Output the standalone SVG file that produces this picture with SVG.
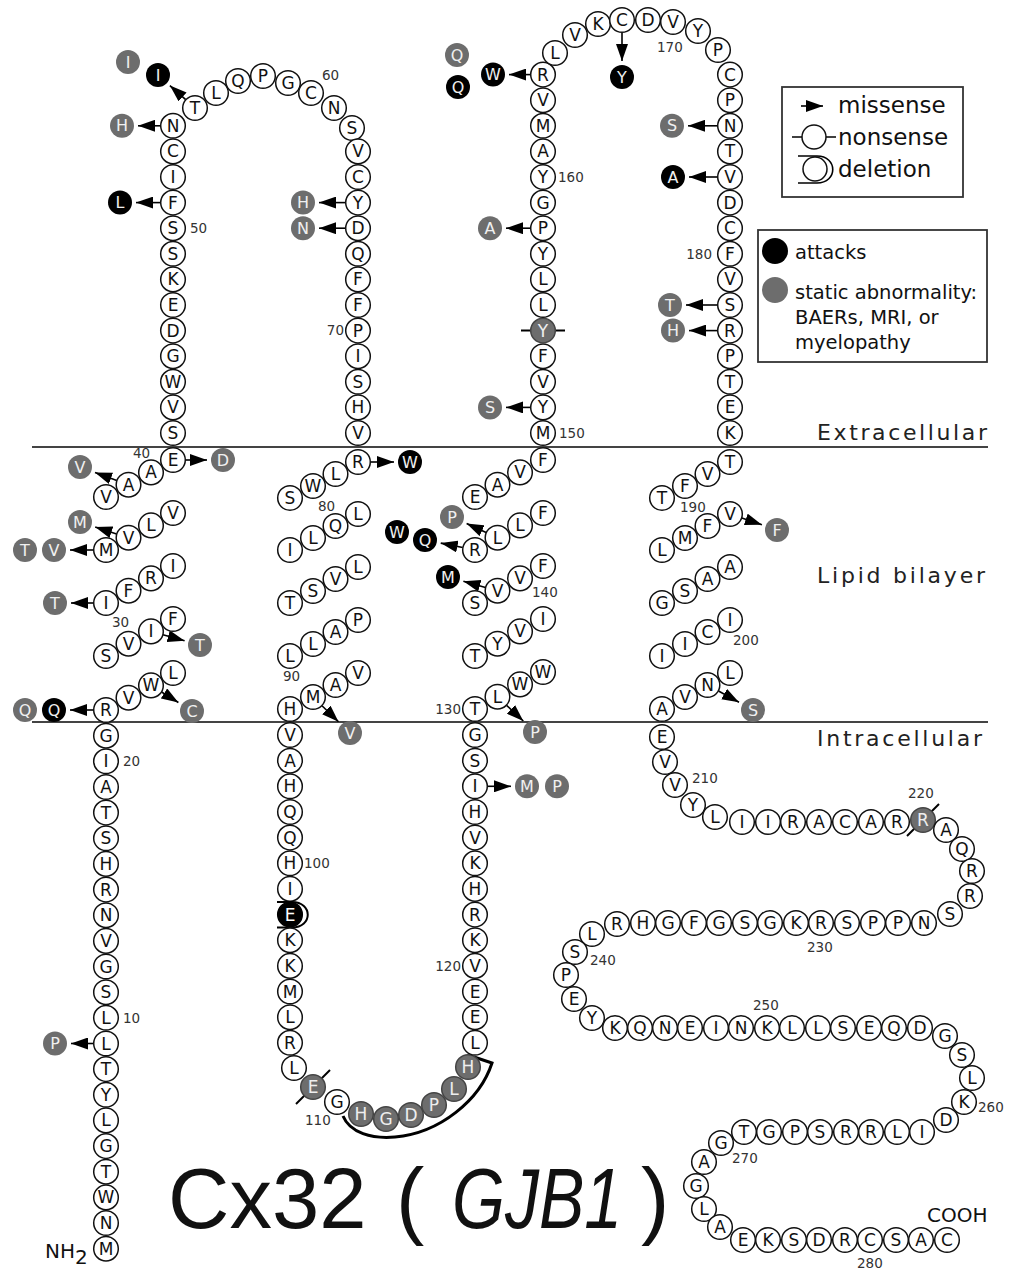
<svg xmlns="http://www.w3.org/2000/svg" width="1015" height="1271" viewBox="0 0 1015 1271">
<defs>
<marker id="ah" markerUnits="userSpaceOnUse" markerWidth="17" markerHeight="12" viewBox="0 0 17 12" refX="17" refY="6" orient="auto"><path d="M0,0 L17,6 L0,12 z" fill="#000"/></marker>
<style>
text{font-family:"DejaVu Sans","Liberation Sans",sans-serif}
.r circle{fill:#fff;stroke:#111;stroke-width:1.5}
.r text{font-size:17px;fill:#111;text-anchor:middle;dominant-baseline:central}
.r.g circle{fill:#6d6d6d;stroke:#444}
.r.g text{fill:#eee}
.r.k circle{fill:#000;stroke:#000}
.r.k text{fill:#fff}
.m circle{stroke:none}
.m.g circle{fill:#6d6d6d}
.m.k circle{fill:#000}
.m text{font-size:16px;fill:#f0f0f0;text-anchor:middle;dominant-baseline:central}
.n{font-size:13.5px;fill:#333}
.arr{stroke:#000;stroke-width:1.6;fill:none;marker-end:url(#ah)}
.mem{stroke:#444;stroke-width:2}
.mark{stroke:#000;stroke-width:2;fill:none}
.reg{font-size:22px;fill:#222}
.leg{font-size:23px;fill:#111}
.leg2{font-size:19.5px;fill:#111}
.ttl{font-family:"Liberation Sans",Arial,sans-serif;font-size:85px;fill:#111}
</style>
</defs>
<rect width="1015" height="1271" fill="#fff"/>
<g id="membrane">
<line class="mem" x1="32" y1="447" x2="988" y2="447"/>
<line class="mem" x1="32" y1="722" x2="988" y2="722"/>
<text class="reg" x="817" y="440" textLength="170" lengthAdjust="spacing">Extracellular</text>
<text class="reg" x="817" y="583" textLength="168" lengthAdjust="spacing">Lipid bilayer</text>
<text class="reg" x="817" y="746" textLength="165" lengthAdjust="spacing">Intracellular</text>
</g>
<g id="connectors">
<line class="arr" x1="185.7" y1="99.7" x2="169.9" y2="85.6"/>
<line class="arr" x1="160.5" y1="125.8" x2="138" y2="125.8"/>
<line class="arr" x1="160.5" y1="202.6" x2="136" y2="202.6"/>
<line class="arr" x1="345.5" y1="202.6" x2="319" y2="202.6"/>
<line class="arr" x1="345.5" y1="228.2" x2="319" y2="228.2"/>
<line class="arr" x1="185.5" y1="460" x2="207" y2="460"/>
<line class="arr" x1="116.8" y1="480.4" x2="95" y2="472.5"/>
<line class="arr" x1="116.6" y1="533.9" x2="95.2" y2="526.9"/>
<line class="arr" x1="93.5" y1="550" x2="70" y2="550"/>
<line class="arr" x1="93.5" y1="603" x2="71" y2="603"/>
<line class="arr" x1="163" y1="634.7" x2="184.6" y2="640.7"/>
<line class="arr" x1="93.5" y1="710" x2="70" y2="710"/>
<line class="arr" x1="161.6" y1="692" x2="178.4" y2="702.5"/>
<line class="arr" x1="370.5" y1="462" x2="394" y2="462"/>
<line class="arr" x1="322" y1="705.7" x2="338.5" y2="721.8"/>
<line class="arr" x1="93.5" y1="1043.5" x2="71" y2="1043.5"/>
<line class="arr" x1="487.5" y1="786.3" x2="511" y2="786.3"/>
<line class="arr" x1="506.6" y1="705.3" x2="523.3" y2="721"/>
<line class="arr" x1="485.5" y1="587.4" x2="463.4" y2="581.3"/>
<line class="arr" x1="462.7" y1="547.5" x2="440.7" y2="543.1"/>
<line class="arr" x1="486.1" y1="532.5" x2="466.6" y2="523.6"/>
<line class="arr" x1="530.5" y1="407.4" x2="506" y2="407.4"/>
<line class="arr" x1="530.5" y1="228.2" x2="506" y2="228.2"/>
<line class="arr" x1="530.5" y1="74.6" x2="509" y2="74.6"/>
<line class="arr" x1="622" y1="32.5" x2="622" y2="61"/>
<line class="arr" x1="717.5" y1="125.8" x2="688" y2="125.8"/>
<line class="arr" x1="717.5" y1="177" x2="689" y2="177"/>
<line class="arr" x1="717.5" y1="305" x2="686" y2="305"/>
<line class="arr" x1="717.5" y1="330.6" x2="689" y2="330.6"/>
<line class="arr" x1="741.8" y1="518" x2="761.9" y2="524.8"/>
<line class="arr" x1="718.5" y1="691" x2="739" y2="702.3"/>
</g>
<g id="deletion-111-116"><path class="mark" style="stroke-width:3" d="M343,1116 C350,1133 372,1139 395,1137 C440,1133 480,1100 492,1063 L474,1057"/></g>
<g id="residues">
<g id="r1" class="r"><circle cx="106" cy="1248.7" r="12.3"/><text x="106" y="1248.7">M</text></g>
<g id="r2" class="r"><circle cx="106" cy="1223" r="12.3"/><text x="106" y="1223">N</text></g>
<g id="r3" class="r"><circle cx="106" cy="1197.4" r="12.3"/><text x="106" y="1197.4">W</text></g>
<g id="r4" class="r"><circle cx="106" cy="1171.7" r="12.3"/><text x="106" y="1171.7">T</text></g>
<g id="r5" class="r"><circle cx="106" cy="1146.1" r="12.3"/><text x="106" y="1146.1">G</text></g>
<g id="r6" class="r"><circle cx="106" cy="1120.4" r="12.3"/><text x="106" y="1120.4">L</text></g>
<g id="r7" class="r"><circle cx="106" cy="1094.8" r="12.3"/><text x="106" y="1094.8">Y</text></g>
<g id="r8" class="r"><circle cx="106" cy="1069.1" r="12.3"/><text x="106" y="1069.1">T</text></g>
<g id="r9" class="r"><circle cx="106" cy="1043.5" r="12.3"/><text x="106" y="1043.5">L</text></g>
<g id="r10" class="r"><circle cx="106" cy="1017.8" r="12.3"/><text x="106" y="1017.8">L</text></g>
<g id="r11" class="r"><circle cx="106" cy="992.2" r="12.3"/><text x="106" y="992.2">S</text></g>
<g id="r12" class="r"><circle cx="106" cy="966.5" r="12.3"/><text x="106" y="966.5">G</text></g>
<g id="r13" class="r"><circle cx="106" cy="940.9" r="12.3"/><text x="106" y="940.9">V</text></g>
<g id="r14" class="r"><circle cx="106" cy="915.2" r="12.3"/><text x="106" y="915.2">N</text></g>
<g id="r15" class="r"><circle cx="106" cy="889.6" r="12.3"/><text x="106" y="889.6">R</text></g>
<g id="r16" class="r"><circle cx="106" cy="863.9" r="12.3"/><text x="106" y="863.9">H</text></g>
<g id="r17" class="r"><circle cx="106" cy="838.3" r="12.3"/><text x="106" y="838.3">S</text></g>
<g id="r18" class="r"><circle cx="106" cy="812.6" r="12.3"/><text x="106" y="812.6">T</text></g>
<g id="r19" class="r"><circle cx="106" cy="787" r="12.3"/><text x="106" y="787">A</text></g>
<g id="r20" class="r"><circle cx="106" cy="761.3" r="12.3"/><text x="106" y="761.3">I</text></g>
<g id="r21" class="r"><circle cx="106" cy="735.7" r="12.3"/><text x="106" y="735.7">G</text></g>
<g id="r22" class="r"><circle cx="106" cy="710" r="12.3"/><text x="106" y="710">R</text></g>
<g id="r23" class="r"><circle cx="128.5" cy="697.7" r="12.3"/><text x="128.5" y="697.7">V</text></g>
<g id="r24" class="r"><circle cx="151" cy="685.4" r="12.3"/><text x="151" y="685.4">W</text></g>
<g id="r25" class="r"><circle cx="173" cy="673" r="12.3"/><text x="173" y="673">L</text></g>
<g id="r26" class="r"><circle cx="106" cy="656" r="12.3"/><text x="106" y="656">S</text></g>
<g id="r27" class="r"><circle cx="128.5" cy="643.7" r="12.3"/><text x="128.5" y="643.7">V</text></g>
<g id="r28" class="r"><circle cx="151" cy="631.4" r="12.3"/><text x="151" y="631.4">I</text></g>
<g id="r29" class="r"><circle cx="173" cy="619" r="12.3"/><text x="173" y="619">F</text></g>
<g id="r30" class="r"><circle cx="106" cy="603" r="12.3"/><text x="106" y="603">I</text></g>
<g id="r31" class="r"><circle cx="128.5" cy="590.7" r="12.3"/><text x="128.5" y="590.7">F</text></g>
<g id="r32" class="r"><circle cx="151" cy="578.4" r="12.3"/><text x="151" y="578.4">R</text></g>
<g id="r33" class="r"><circle cx="173" cy="566" r="12.3"/><text x="173" y="566">I</text></g>
<g id="r34" class="r"><circle cx="106" cy="550" r="12.3"/><text x="106" y="550">M</text></g>
<g id="r35" class="r"><circle cx="128.5" cy="537.7" r="12.3"/><text x="128.5" y="537.7">V</text></g>
<g id="r36" class="r"><circle cx="151" cy="525.4" r="12.3"/><text x="151" y="525.4">L</text></g>
<g id="r37" class="r"><circle cx="173" cy="513" r="12.3"/><text x="173" y="513">V</text></g>
<g id="r38" class="r"><circle cx="106" cy="497" r="12.3"/><text x="106" y="497">V</text></g>
<g id="r39" class="r"><circle cx="128.5" cy="484.7" r="12.3"/><text x="128.5" y="484.7">A</text></g>
<g id="r40" class="r"><circle cx="151" cy="472.4" r="12.3"/><text x="151" y="472.4">A</text></g>
<g id="r41" class="r"><circle cx="173" cy="460" r="12.3"/><text x="173" y="460">E</text></g>
<g id="r42" class="r"><circle cx="173" cy="433" r="12.3"/><text x="173" y="433">S</text></g>
<g id="r43" class="r"><circle cx="173" cy="407.4" r="12.3"/><text x="173" y="407.4">V</text></g>
<g id="r44" class="r"><circle cx="173" cy="381.8" r="12.3"/><text x="173" y="381.8">W</text></g>
<g id="r45" class="r"><circle cx="173" cy="356.2" r="12.3"/><text x="173" y="356.2">G</text></g>
<g id="r46" class="r"><circle cx="173" cy="330.6" r="12.3"/><text x="173" y="330.6">D</text></g>
<g id="r47" class="r"><circle cx="173" cy="305" r="12.3"/><text x="173" y="305">E</text></g>
<g id="r48" class="r"><circle cx="173" cy="279.4" r="12.3"/><text x="173" y="279.4">K</text></g>
<g id="r49" class="r"><circle cx="173" cy="253.8" r="12.3"/><text x="173" y="253.8">S</text></g>
<g id="r50" class="r"><circle cx="173" cy="228.2" r="12.3"/><text x="173" y="228.2">S</text></g>
<g id="r51" class="r"><circle cx="173" cy="202.6" r="12.3"/><text x="173" y="202.6">F</text></g>
<g id="r52" class="r"><circle cx="173" cy="177" r="12.3"/><text x="173" y="177">I</text></g>
<g id="r53" class="r"><circle cx="173" cy="151.4" r="12.3"/><text x="173" y="151.4">C</text></g>
<g id="r54" class="r"><circle cx="173" cy="125.8" r="12.3"/><text x="173" y="125.8">N</text></g>
<g id="r55" class="r"><circle cx="195" cy="108" r="12.3"/><text x="195" y="108">T</text></g>
<g id="r56" class="r"><circle cx="216" cy="93" r="12.3"/><text x="216" y="93">L</text></g>
<g id="r57" class="r"><circle cx="238" cy="81" r="12.3"/><text x="238" y="81">Q</text></g>
<g id="r58" class="r"><circle cx="263" cy="76" r="12.3"/><text x="263" y="76">P</text></g>
<g id="r59" class="r"><circle cx="288" cy="83" r="12.3"/><text x="288" y="83">G</text></g>
<g id="r60" class="r"><circle cx="311" cy="93" r="12.3"/><text x="311" y="93">C</text></g>
<g id="r61" class="r"><circle cx="334" cy="108" r="12.3"/><text x="334" y="108">N</text></g>
<g id="r62" class="r"><circle cx="352" cy="128" r="12.3"/><text x="352" y="128">S</text></g>
<g id="r63" class="r"><circle cx="358" cy="151.4" r="12.3"/><text x="358" y="151.4">V</text></g>
<g id="r64" class="r"><circle cx="358" cy="177" r="12.3"/><text x="358" y="177">C</text></g>
<g id="r65" class="r"><circle cx="358" cy="202.6" r="12.3"/><text x="358" y="202.6">Y</text></g>
<g id="r66" class="r"><circle cx="358" cy="228.2" r="12.3"/><text x="358" y="228.2">D</text></g>
<g id="r67" class="r"><circle cx="358" cy="253.8" r="12.3"/><text x="358" y="253.8">Q</text></g>
<g id="r68" class="r"><circle cx="358" cy="279.4" r="12.3"/><text x="358" y="279.4">F</text></g>
<g id="r69" class="r"><circle cx="358" cy="305" r="12.3"/><text x="358" y="305">F</text></g>
<g id="r70" class="r"><circle cx="358" cy="330.6" r="12.3"/><text x="358" y="330.6">P</text></g>
<g id="r71" class="r"><circle cx="358" cy="356.2" r="12.3"/><text x="358" y="356.2">I</text></g>
<g id="r72" class="r"><circle cx="358" cy="381.8" r="12.3"/><text x="358" y="381.8">S</text></g>
<g id="r73" class="r"><circle cx="358" cy="407.4" r="12.3"/><text x="358" y="407.4">H</text></g>
<g id="r74" class="r"><circle cx="358" cy="433" r="12.3"/><text x="358" y="433">V</text></g>
<g id="r75" class="r"><circle cx="358" cy="462" r="12.3"/><text x="358" y="462">R</text></g>
<g id="r76" class="r"><circle cx="335.5" cy="474" r="12.3"/><text x="335.5" y="474">L</text></g>
<g id="r77" class="r"><circle cx="313" cy="486" r="12.3"/><text x="313" y="486">W</text></g>
<g id="r78" class="r"><circle cx="290" cy="498" r="12.3"/><text x="290" y="498">S</text></g>
<g id="r79" class="r"><circle cx="358" cy="514" r="12.3"/><text x="358" y="514">L</text></g>
<g id="r80" class="r"><circle cx="335.5" cy="526" r="12.3"/><text x="335.5" y="526">Q</text></g>
<g id="r81" class="r"><circle cx="313" cy="538" r="12.3"/><text x="313" y="538">L</text></g>
<g id="r82" class="r"><circle cx="290" cy="550" r="12.3"/><text x="290" y="550">I</text></g>
<g id="r83" class="r"><circle cx="358" cy="567" r="12.3"/><text x="358" y="567">L</text></g>
<g id="r84" class="r"><circle cx="335.5" cy="579" r="12.3"/><text x="335.5" y="579">V</text></g>
<g id="r85" class="r"><circle cx="313" cy="591" r="12.3"/><text x="313" y="591">S</text></g>
<g id="r86" class="r"><circle cx="290" cy="603" r="12.3"/><text x="290" y="603">T</text></g>
<g id="r87" class="r"><circle cx="358" cy="620" r="12.3"/><text x="358" y="620">P</text></g>
<g id="r88" class="r"><circle cx="335.5" cy="632" r="12.3"/><text x="335.5" y="632">A</text></g>
<g id="r89" class="r"><circle cx="313" cy="644" r="12.3"/><text x="313" y="644">L</text></g>
<g id="r90" class="r"><circle cx="290" cy="656" r="12.3"/><text x="290" y="656">L</text></g>
<g id="r91" class="r"><circle cx="358" cy="673" r="12.3"/><text x="358" y="673">V</text></g>
<g id="r92" class="r"><circle cx="335.5" cy="685" r="12.3"/><text x="335.5" y="685">A</text></g>
<g id="r93" class="r"><circle cx="313" cy="697" r="12.3"/><text x="313" y="697">M</text></g>
<g id="r94" class="r"><circle cx="290" cy="709" r="12.3"/><text x="290" y="709">H</text></g>
<g id="r95" class="r"><circle cx="290" cy="735" r="12.3"/><text x="290" y="735">V</text></g>
<g id="r96" class="r"><circle cx="290" cy="760.7" r="12.3"/><text x="290" y="760.7">A</text></g>
<g id="r97" class="r"><circle cx="290" cy="786.3" r="12.3"/><text x="290" y="786.3">H</text></g>
<g id="r98" class="r"><circle cx="290" cy="812" r="12.3"/><text x="290" y="812">Q</text></g>
<g id="r99" class="r"><circle cx="290" cy="837.6" r="12.3"/><text x="290" y="837.6">Q</text></g>
<g id="r100" class="r"><circle cx="290" cy="863.3" r="12.3"/><text x="290" y="863.3">H</text></g>
<g id="r101" class="r"><circle cx="290" cy="888.9" r="12.3"/><text x="290" y="888.9">I</text></g>
<g id="r102" class="r k"><circle cx="290" cy="914.6" r="12.3"/><text x="290" y="914.6">E</text><path class="mark" d="M277,902 H292 C313,902 313,927.5 292,927.5 H277"/></g>
<g id="r103" class="r"><circle cx="290" cy="940.2" r="12.3"/><text x="290" y="940.2">K</text></g>
<g id="r104" class="r"><circle cx="290" cy="965.9" r="12.3"/><text x="290" y="965.9">K</text></g>
<g id="r105" class="r"><circle cx="290" cy="991.5" r="12.3"/><text x="290" y="991.5">M</text></g>
<g id="r106" class="r"><circle cx="290" cy="1017.2" r="12.3"/><text x="290" y="1017.2">L</text></g>
<g id="r107" class="r"><circle cx="290" cy="1042.8" r="12.3"/><text x="290" y="1042.8">R</text></g>
<g id="r108" class="r"><circle cx="294" cy="1068" r="12.3"/><text x="294" y="1068">L</text></g>
<g id="r109" class="r g"><line class="mark" x1="296" y1="1104" x2="330" y2="1070"/><circle cx="313" cy="1087" r="12.3"/><text x="313" y="1087">E</text></g>
<g id="r110" class="r"><circle cx="337" cy="1102" r="12.3"/><text x="337" y="1102">G</text></g>
<g id="r111" class="r g"><circle cx="361" cy="1114" r="12.3"/><text x="361" y="1114">H</text></g>
<g id="r112" class="r g"><circle cx="386" cy="1119" r="12.3"/><text x="386" y="1119">G</text></g>
<g id="r113" class="r g"><circle cx="411" cy="1115" r="12.3"/><text x="411" y="1115">D</text></g>
<g id="r114" class="r g"><circle cx="434" cy="1105" r="12.3"/><text x="434" y="1105">P</text></g>
<g id="r115" class="r g"><circle cx="454" cy="1089" r="12.3"/><text x="454" y="1089">L</text></g>
<g id="r116" class="r g"><circle cx="468" cy="1067" r="12.3"/><text x="468" y="1067">H</text></g>
<g id="r117" class="r"><circle cx="475" cy="1042.8" r="12.3"/><text x="475" y="1042.8">L</text></g>
<g id="r118" class="r"><circle cx="475" cy="1017.2" r="12.3"/><text x="475" y="1017.2">E</text></g>
<g id="r119" class="r"><circle cx="475" cy="991.5" r="12.3"/><text x="475" y="991.5">E</text></g>
<g id="r120" class="r"><circle cx="475" cy="965.9" r="12.3"/><text x="475" y="965.9">V</text></g>
<g id="r121" class="r"><circle cx="475" cy="940.2" r="12.3"/><text x="475" y="940.2">K</text></g>
<g id="r122" class="r"><circle cx="475" cy="914.6" r="12.3"/><text x="475" y="914.6">R</text></g>
<g id="r123" class="r"><circle cx="475" cy="888.9" r="12.3"/><text x="475" y="888.9">H</text></g>
<g id="r124" class="r"><circle cx="475" cy="863.3" r="12.3"/><text x="475" y="863.3">K</text></g>
<g id="r125" class="r"><circle cx="475" cy="837.6" r="12.3"/><text x="475" y="837.6">V</text></g>
<g id="r126" class="r"><circle cx="475" cy="812" r="12.3"/><text x="475" y="812">H</text></g>
<g id="r127" class="r"><circle cx="475" cy="786.3" r="12.3"/><text x="475" y="786.3">I</text></g>
<g id="r128" class="r"><circle cx="475" cy="760.7" r="12.3"/><text x="475" y="760.7">S</text></g>
<g id="r129" class="r"><circle cx="475" cy="735" r="12.3"/><text x="475" y="735">G</text></g>
<g id="r130" class="r"><circle cx="475" cy="709" r="12.3"/><text x="475" y="709">T</text></g>
<g id="r131" class="r"><circle cx="497.5" cy="696.7" r="12.3"/><text x="497.5" y="696.7">L</text></g>
<g id="r132" class="r"><circle cx="520" cy="684.4" r="12.3"/><text x="520" y="684.4">W</text></g>
<g id="r133" class="r"><circle cx="543" cy="672" r="12.3"/><text x="543" y="672">W</text></g>
<g id="r134" class="r"><circle cx="475" cy="656" r="12.3"/><text x="475" y="656">T</text></g>
<g id="r135" class="r"><circle cx="497.5" cy="643.7" r="12.3"/><text x="497.5" y="643.7">Y</text></g>
<g id="r136" class="r"><circle cx="520" cy="631.4" r="12.3"/><text x="520" y="631.4">V</text></g>
<g id="r137" class="r"><circle cx="543" cy="619" r="12.3"/><text x="543" y="619">I</text></g>
<g id="r138" class="r"><circle cx="475" cy="603" r="12.3"/><text x="475" y="603">S</text></g>
<g id="r139" class="r"><circle cx="497.5" cy="590.7" r="12.3"/><text x="497.5" y="590.7">V</text></g>
<g id="r140" class="r"><circle cx="520" cy="578.4" r="12.3"/><text x="520" y="578.4">V</text></g>
<g id="r141" class="r"><circle cx="543" cy="566" r="12.3"/><text x="543" y="566">F</text></g>
<g id="r142" class="r"><circle cx="475" cy="550" r="12.3"/><text x="475" y="550">R</text></g>
<g id="r143" class="r"><circle cx="497.5" cy="537.7" r="12.3"/><text x="497.5" y="537.7">L</text></g>
<g id="r144" class="r"><circle cx="520" cy="525.4" r="12.3"/><text x="520" y="525.4">L</text></g>
<g id="r145" class="r"><circle cx="543" cy="513" r="12.3"/><text x="543" y="513">F</text></g>
<g id="r146" class="r"><circle cx="475" cy="497" r="12.3"/><text x="475" y="497">E</text></g>
<g id="r147" class="r"><circle cx="497.5" cy="484.7" r="12.3"/><text x="497.5" y="484.7">A</text></g>
<g id="r148" class="r"><circle cx="520" cy="472.4" r="12.3"/><text x="520" y="472.4">V</text></g>
<g id="r149" class="r"><circle cx="543" cy="460" r="12.3"/><text x="543" y="460">F</text></g>
<g id="r150" class="r"><circle cx="543" cy="433" r="12.3"/><text x="543" y="433">M</text></g>
<g id="r151" class="r"><circle cx="543" cy="407.4" r="12.3"/><text x="543" y="407.4">Y</text></g>
<g id="r152" class="r"><circle cx="543" cy="381.8" r="12.3"/><text x="543" y="381.8">V</text></g>
<g id="r153" class="r"><circle cx="543" cy="356.2" r="12.3"/><text x="543" y="356.2">F</text></g>
<g id="r154" class="r g"><line class="mark" x1="521" y1="330.6" x2="565" y2="330.6"/><circle cx="543" cy="330.6" r="12.3"/><text x="543" y="330.6">Y</text></g>
<g id="r155" class="r"><circle cx="543" cy="305" r="12.3"/><text x="543" y="305">L</text></g>
<g id="r156" class="r"><circle cx="543" cy="279.4" r="12.3"/><text x="543" y="279.4">L</text></g>
<g id="r157" class="r"><circle cx="543" cy="253.8" r="12.3"/><text x="543" y="253.8">Y</text></g>
<g id="r158" class="r"><circle cx="543" cy="228.2" r="12.3"/><text x="543" y="228.2">P</text></g>
<g id="r159" class="r"><circle cx="543" cy="202.6" r="12.3"/><text x="543" y="202.6">G</text></g>
<g id="r160" class="r"><circle cx="543" cy="177" r="12.3"/><text x="543" y="177">Y</text></g>
<g id="r161" class="r"><circle cx="543" cy="151.4" r="12.3"/><text x="543" y="151.4">A</text></g>
<g id="r162" class="r"><circle cx="543" cy="125.8" r="12.3"/><text x="543" y="125.8">M</text></g>
<g id="r163" class="r"><circle cx="543" cy="100.2" r="12.3"/><text x="543" y="100.2">V</text></g>
<g id="r164" class="r"><circle cx="543" cy="74.6" r="12.3"/><text x="543" y="74.6">R</text></g>
<g id="r165" class="r"><circle cx="555" cy="53" r="12.3"/><text x="555" y="53">L</text></g>
<g id="r166" class="r"><circle cx="575" cy="35" r="12.3"/><text x="575" y="35">V</text></g>
<g id="r167" class="r"><circle cx="598" cy="24" r="12.3"/><text x="598" y="24">K</text></g>
<g id="r168" class="r"><circle cx="622" cy="20" r="12.3"/><text x="622" y="20">C</text></g>
<g id="r169" class="r"><circle cx="648" cy="20" r="12.3"/><text x="648" y="20">D</text></g>
<g id="r170" class="r"><circle cx="673" cy="22" r="12.3"/><text x="673" y="22">V</text></g>
<g id="r171" class="r"><circle cx="698" cy="31" r="12.3"/><text x="698" y="31">Y</text></g>
<g id="r172" class="r"><circle cx="718" cy="50" r="12.3"/><text x="718" y="50">P</text></g>
<g id="r173" class="r"><circle cx="730" cy="74.6" r="12.3"/><text x="730" y="74.6">C</text></g>
<g id="r174" class="r"><circle cx="730" cy="100.2" r="12.3"/><text x="730" y="100.2">P</text></g>
<g id="r175" class="r"><circle cx="730" cy="125.8" r="12.3"/><text x="730" y="125.8">N</text></g>
<g id="r176" class="r"><circle cx="730" cy="151.4" r="12.3"/><text x="730" y="151.4">T</text></g>
<g id="r177" class="r"><circle cx="730" cy="177" r="12.3"/><text x="730" y="177">V</text></g>
<g id="r178" class="r"><circle cx="730" cy="202.6" r="12.3"/><text x="730" y="202.6">D</text></g>
<g id="r179" class="r"><circle cx="730" cy="228.2" r="12.3"/><text x="730" y="228.2">C</text></g>
<g id="r180" class="r"><circle cx="730" cy="253.8" r="12.3"/><text x="730" y="253.8">F</text></g>
<g id="r181" class="r"><circle cx="730" cy="279.4" r="12.3"/><text x="730" y="279.4">V</text></g>
<g id="r182" class="r"><circle cx="730" cy="305" r="12.3"/><text x="730" y="305">S</text></g>
<g id="r183" class="r"><circle cx="730" cy="330.6" r="12.3"/><text x="730" y="330.6">R</text></g>
<g id="r184" class="r"><circle cx="730" cy="356.2" r="12.3"/><text x="730" y="356.2">P</text></g>
<g id="r185" class="r"><circle cx="730" cy="381.8" r="12.3"/><text x="730" y="381.8">T</text></g>
<g id="r186" class="r"><circle cx="730" cy="407.4" r="12.3"/><text x="730" y="407.4">E</text></g>
<g id="r187" class="r"><circle cx="730" cy="433" r="12.3"/><text x="730" y="433">K</text></g>
<g id="r188" class="r"><circle cx="730" cy="462" r="12.3"/><text x="730" y="462">T</text></g>
<g id="r189" class="r"><circle cx="707.5" cy="474" r="12.3"/><text x="707.5" y="474">V</text></g>
<g id="r190" class="r"><circle cx="685" cy="486" r="12.3"/><text x="685" y="486">F</text></g>
<g id="r191" class="r"><circle cx="662" cy="498" r="12.3"/><text x="662" y="498">T</text></g>
<g id="r192" class="r"><circle cx="730" cy="514" r="12.3"/><text x="730" y="514">V</text></g>
<g id="r193" class="r"><circle cx="707.5" cy="526" r="12.3"/><text x="707.5" y="526">F</text></g>
<g id="r194" class="r"><circle cx="685" cy="538" r="12.3"/><text x="685" y="538">M</text></g>
<g id="r195" class="r"><circle cx="662" cy="550" r="12.3"/><text x="662" y="550">L</text></g>
<g id="r196" class="r"><circle cx="730" cy="567" r="12.3"/><text x="730" y="567">A</text></g>
<g id="r197" class="r"><circle cx="707.5" cy="579" r="12.3"/><text x="707.5" y="579">A</text></g>
<g id="r198" class="r"><circle cx="685" cy="591" r="12.3"/><text x="685" y="591">S</text></g>
<g id="r199" class="r"><circle cx="662" cy="603" r="12.3"/><text x="662" y="603">G</text></g>
<g id="r200" class="r"><circle cx="730" cy="620" r="12.3"/><text x="730" y="620">I</text></g>
<g id="r201" class="r"><circle cx="707.5" cy="632" r="12.3"/><text x="707.5" y="632">C</text></g>
<g id="r202" class="r"><circle cx="685" cy="644" r="12.3"/><text x="685" y="644">I</text></g>
<g id="r203" class="r"><circle cx="662" cy="656" r="12.3"/><text x="662" y="656">I</text></g>
<g id="r204" class="r"><circle cx="730" cy="673" r="12.3"/><text x="730" y="673">L</text></g>
<g id="r205" class="r"><circle cx="707.5" cy="685" r="12.3"/><text x="707.5" y="685">N</text></g>
<g id="r206" class="r"><circle cx="685" cy="697" r="12.3"/><text x="685" y="697">V</text></g>
<g id="r207" class="r"><circle cx="662" cy="709" r="12.3"/><text x="662" y="709">A</text></g>
<g id="r208" class="r"><circle cx="662" cy="737" r="12.3"/><text x="662" y="737">E</text></g>
<g id="r209" class="r"><circle cx="665" cy="762" r="12.3"/><text x="665" y="762">V</text></g>
<g id="r210" class="r"><circle cx="675" cy="785" r="12.3"/><text x="675" y="785">V</text></g>
<g id="r211" class="r"><circle cx="693" cy="805" r="12.3"/><text x="693" y="805">Y</text></g>
<g id="r212" class="r"><circle cx="715" cy="817" r="12.3"/><text x="715" y="817">L</text></g>
<g id="r213" class="r"><circle cx="742" cy="822" r="12.3"/><text x="742" y="822">I</text></g>
<g id="r214" class="r"><circle cx="768" cy="822" r="12.3"/><text x="768" y="822">I</text></g>
<g id="r215" class="r"><circle cx="793" cy="822" r="12.3"/><text x="793" y="822">R</text></g>
<g id="r216" class="r"><circle cx="819" cy="822" r="12.3"/><text x="819" y="822">A</text></g>
<g id="r217" class="r"><circle cx="845" cy="822" r="12.3"/><text x="845" y="822">C</text></g>
<g id="r218" class="r"><circle cx="871" cy="822" r="12.3"/><text x="871" y="822">A</text></g>
<g id="r219" class="r"><circle cx="897" cy="822" r="12.3"/><text x="897" y="822">R</text></g>
<g id="r220" class="r g"><line class="mark" x1="907" y1="836" x2="939" y2="804"/><circle cx="923" cy="820" r="12.3"/><text x="923" y="820">R</text></g>
<g id="r221" class="r"><circle cx="946" cy="830" r="12.3"/><text x="946" y="830">A</text></g>
<g id="r222" class="r"><circle cx="962" cy="849" r="12.3"/><text x="962" y="849">Q</text></g>
<g id="r223" class="r"><circle cx="972" cy="871" r="12.3"/><text x="972" y="871">R</text></g>
<g id="r224" class="r"><circle cx="970" cy="896" r="12.3"/><text x="970" y="896">R</text></g>
<g id="r225" class="r"><circle cx="950" cy="914" r="12.3"/><text x="950" y="914">S</text></g>
<g id="r226" class="r"><circle cx="924" cy="923" r="12.3"/><text x="924" y="923">N</text></g>
<g id="r227" class="r"><circle cx="898" cy="923" r="12.3"/><text x="898" y="923">P</text></g>
<g id="r228" class="r"><circle cx="873" cy="923" r="12.3"/><text x="873" y="923">P</text></g>
<g id="r229" class="r"><circle cx="847" cy="923" r="12.3"/><text x="847" y="923">S</text></g>
<g id="r230" class="r"><circle cx="821" cy="923" r="12.3"/><text x="821" y="923">R</text></g>
<g id="r231" class="r"><circle cx="796" cy="923" r="12.3"/><text x="796" y="923">K</text></g>
<g id="r232" class="r"><circle cx="770" cy="923" r="12.3"/><text x="770" y="923">G</text></g>
<g id="r233" class="r"><circle cx="745" cy="923" r="12.3"/><text x="745" y="923">S</text></g>
<g id="r234" class="r"><circle cx="719" cy="923" r="12.3"/><text x="719" y="923">G</text></g>
<g id="r235" class="r"><circle cx="694" cy="923" r="12.3"/><text x="694" y="923">F</text></g>
<g id="r236" class="r"><circle cx="668" cy="923" r="12.3"/><text x="668" y="923">G</text></g>
<g id="r237" class="r"><circle cx="643" cy="923" r="12.3"/><text x="643" y="923">H</text></g>
<g id="r238" class="r"><circle cx="617" cy="924" r="12.3"/><text x="617" y="924">R</text></g>
<g id="r239" class="r"><circle cx="592" cy="934" r="12.3"/><text x="592" y="934">L</text></g>
<g id="r240" class="r"><circle cx="575" cy="952" r="12.3"/><text x="575" y="952">S</text></g>
<g id="r241" class="r"><circle cx="566" cy="975" r="12.3"/><text x="566" y="975">P</text></g>
<g id="r242" class="r"><circle cx="574" cy="999" r="12.3"/><text x="574" y="999">E</text></g>
<g id="r243" class="r"><circle cx="592" cy="1018" r="12.3"/><text x="592" y="1018">Y</text></g>
<g id="r244" class="r"><circle cx="615" cy="1028" r="12.3"/><text x="615" y="1028">K</text></g>
<g id="r245" class="r"><circle cx="640" cy="1028" r="12.3"/><text x="640" y="1028">Q</text></g>
<g id="r246" class="r"><circle cx="665" cy="1028" r="12.3"/><text x="665" y="1028">N</text></g>
<g id="r247" class="r"><circle cx="690" cy="1028" r="12.3"/><text x="690" y="1028">E</text></g>
<g id="r248" class="r"><circle cx="716" cy="1028" r="12.3"/><text x="716" y="1028">I</text></g>
<g id="r249" class="r"><circle cx="741" cy="1028" r="12.3"/><text x="741" y="1028">N</text></g>
<g id="r250" class="r"><circle cx="767" cy="1028" r="12.3"/><text x="767" y="1028">K</text></g>
<g id="r251" class="r"><circle cx="792" cy="1028" r="12.3"/><text x="792" y="1028">L</text></g>
<g id="r252" class="r"><circle cx="818" cy="1028" r="12.3"/><text x="818" y="1028">L</text></g>
<g id="r253" class="r"><circle cx="843" cy="1028" r="12.3"/><text x="843" y="1028">S</text></g>
<g id="r254" class="r"><circle cx="869" cy="1028" r="12.3"/><text x="869" y="1028">E</text></g>
<g id="r255" class="r"><circle cx="894" cy="1028" r="12.3"/><text x="894" y="1028">Q</text></g>
<g id="r256" class="r"><circle cx="920" cy="1028" r="12.3"/><text x="920" y="1028">D</text></g>
<g id="r257" class="r"><circle cx="945" cy="1036" r="12.3"/><text x="945" y="1036">G</text></g>
<g id="r258" class="r"><circle cx="962" cy="1055" r="12.3"/><text x="962" y="1055">S</text></g>
<g id="r259" class="r"><circle cx="972" cy="1078" r="12.3"/><text x="972" y="1078">L</text></g>
<g id="r260" class="r"><circle cx="964" cy="1102" r="12.3"/><text x="964" y="1102">K</text></g>
<g id="r261" class="r"><circle cx="946" cy="1120" r="12.3"/><text x="946" y="1120">D</text></g>
<g id="r262" class="r"><circle cx="922" cy="1132" r="12.3"/><text x="922" y="1132">I</text></g>
<g id="r263" class="r"><circle cx="897" cy="1132" r="12.3"/><text x="897" y="1132">L</text></g>
<g id="r264" class="r"><circle cx="871" cy="1132" r="12.3"/><text x="871" y="1132">R</text></g>
<g id="r265" class="r"><circle cx="846" cy="1132" r="12.3"/><text x="846" y="1132">R</text></g>
<g id="r266" class="r"><circle cx="820" cy="1132" r="12.3"/><text x="820" y="1132">S</text></g>
<g id="r267" class="r"><circle cx="795" cy="1132" r="12.3"/><text x="795" y="1132">P</text></g>
<g id="r268" class="r"><circle cx="769" cy="1132" r="12.3"/><text x="769" y="1132">G</text></g>
<g id="r269" class="r"><circle cx="744" cy="1132" r="12.3"/><text x="744" y="1132">T</text></g>
<g id="r270" class="r"><circle cx="721" cy="1143" r="12.3"/><text x="721" y="1143">G</text></g>
<g id="r271" class="r"><circle cx="704" cy="1162" r="12.3"/><text x="704" y="1162">A</text></g>
<g id="r272" class="r"><circle cx="696" cy="1186" r="12.3"/><text x="696" y="1186">G</text></g>
<g id="r273" class="r"><circle cx="704" cy="1209" r="12.3"/><text x="704" y="1209">L</text></g>
<g id="r274" class="r"><circle cx="720" cy="1227" r="12.3"/><text x="720" y="1227">A</text></g>
<g id="r275" class="r"><circle cx="743" cy="1240" r="12.3"/><text x="743" y="1240">E</text></g>
<g id="r276" class="r"><circle cx="768" cy="1240" r="12.3"/><text x="768" y="1240">K</text></g>
<g id="r277" class="r"><circle cx="794" cy="1240" r="12.3"/><text x="794" y="1240">S</text></g>
<g id="r278" class="r"><circle cx="819" cy="1240" r="12.3"/><text x="819" y="1240">D</text></g>
<g id="r279" class="r"><circle cx="845" cy="1240" r="12.3"/><text x="845" y="1240">R</text></g>
<g id="r280" class="r"><circle cx="870" cy="1240" r="12.3"/><text x="870" y="1240">C</text></g>
<g id="r281" class="r"><circle cx="896" cy="1240" r="12.3"/><text x="896" y="1240">S</text></g>
<g id="r282" class="r"><circle cx="921" cy="1240" r="12.3"/><text x="921" y="1240">A</text></g>
<g id="r283" class="r"><circle cx="947" cy="1240" r="12.3"/><text x="947" y="1240">C</text></g>
</g>
<g id="mutants">
<g id="m-T55I-static" class="m g"><circle cx="128" cy="62" r="12"/><text x="128" y="62">I</text></g>
<g id="m-T55I-attack" class="m k"><circle cx="158" cy="75" r="12"/><text x="158" y="75">I</text></g>
<g id="m-N54H" class="m g"><circle cx="122" cy="125.8" r="12"/><text x="122" y="125.8">H</text></g>
<g id="m-F51L" class="m k"><circle cx="120" cy="202.6" r="12"/><text x="120" y="202.6">L</text></g>
<g id="m-Y65H" class="m g"><circle cx="303" cy="202.6" r="12"/><text x="303" y="202.6">H</text></g>
<g id="m-D66N" class="m g"><circle cx="303" cy="228.2" r="12"/><text x="303" y="228.2">N</text></g>
<g id="m-E41D" class="m g"><circle cx="223" cy="460" r="12"/><text x="223" y="460">D</text></g>
<g id="m-A39V" class="m g"><circle cx="80" cy="467" r="12"/><text x="80" y="467">V</text></g>
<g id="m-V35M" class="m g"><circle cx="80" cy="522" r="12"/><text x="80" y="522">M</text></g>
<g id="m-M34V" class="m g"><circle cx="54" cy="550" r="12"/><text x="54" y="550">V</text></g>
<g id="m-M34T" class="m g"><circle cx="25" cy="550" r="12"/><text x="25" y="550">T</text></g>
<g id="m-I30T" class="m g"><circle cx="55" cy="603" r="12"/><text x="55" y="603">T</text></g>
<g id="m-I28T" class="m g"><circle cx="200" cy="645" r="12"/><text x="200" y="645">T</text></g>
<g id="m-R22Q-attack" class="m k"><circle cx="54" cy="710" r="12"/><text x="54" y="710">Q</text></g>
<g id="m-R22Q-static" class="m g"><circle cx="25" cy="710" r="12"/><text x="25" y="710">Q</text></g>
<g id="m-W24C" class="m g"><circle cx="192" cy="711" r="12"/><text x="192" y="711">C</text></g>
<g id="m-R75W" class="m k"><circle cx="410" cy="462" r="12"/><text x="410" y="462">W</text></g>
<g id="m-M93V" class="m g"><circle cx="350" cy="733" r="12"/><text x="350" y="733">V</text></g>
<g id="m-L9P" class="m g"><circle cx="55" cy="1043.5" r="12"/><text x="55" y="1043.5">P</text></g>
<g id="m-I127M" class="m g"><circle cx="527" cy="786.3" r="12"/><text x="527" y="786.3">M</text></g>
<g id="m-I127P" class="m g"><circle cx="557" cy="786.3" r="12"/><text x="557" y="786.3">P</text></g>
<g id="m-L131P" class="m g"><circle cx="535" cy="732" r="12"/><text x="535" y="732">P</text></g>
<g id="m-V139M" class="m k"><circle cx="448" cy="577" r="12"/><text x="448" y="577">M</text></g>
<g id="m-R142Q" class="m k"><circle cx="425" cy="540" r="12"/><text x="425" y="540">Q</text></g>
<g id="m-R142W" class="m k"><circle cx="397" cy="532" r="12"/><text x="397" y="532">W</text></g>
<g id="m-L143P" class="m g"><circle cx="452" cy="517" r="12"/><text x="452" y="517">P</text></g>
<g id="m-Y151S" class="m g"><circle cx="490" cy="407.4" r="12"/><text x="490" y="407.4">S</text></g>
<g id="m-P158A" class="m g"><circle cx="490" cy="228.2" r="12"/><text x="490" y="228.2">A</text></g>
<g id="m-R164W" class="m k"><circle cx="493" cy="74.6" r="12"/><text x="493" y="74.6">W</text></g>
<g id="m-R164Q-attack" class="m k"><circle cx="458" cy="87" r="12"/><text x="458" y="87">Q</text></g>
<g id="m-R164Q-static" class="m g"><circle cx="457" cy="55" r="12"/><text x="457" y="55">Q</text></g>
<g id="m-C168Y" class="m k"><circle cx="622" cy="77" r="12"/><text x="622" y="77">Y</text></g>
<g id="m-N175S" class="m g"><circle cx="672" cy="125.8" r="12"/><text x="672" y="125.8">S</text></g>
<g id="m-V177A" class="m k"><circle cx="673" cy="177" r="12"/><text x="673" y="177">A</text></g>
<g id="m-S182T" class="m g"><circle cx="670" cy="305" r="12"/><text x="670" y="305">T</text></g>
<g id="m-R183H" class="m g"><circle cx="673" cy="330.6" r="12"/><text x="673" y="330.6">H</text></g>
<g id="m-V192F" class="m g"><circle cx="777" cy="530" r="12"/><text x="777" y="530">F</text></g>
<g id="m-N205S" class="m g"><circle cx="753" cy="710" r="12"/><text x="753" y="710">S</text></g>
</g>
<g id="numbers" class="n">
<text x="123" y="1023">10</text>
<text x="123" y="766">20</text>
<text x="112" y="627">30</text>
<text x="133" y="458">40</text>
<text x="190" y="233">50</text>
<text x="322" y="80">60</text>
<text x="344" y="335" text-anchor="end">70</text>
<text x="318" y="511">80</text>
<text x="283" y="681">90</text>
<text x="304" y="868">100</text>
<text x="305" y="1125">110</text>
<text x="461" y="971" text-anchor="end">120</text>
<text x="461" y="714" text-anchor="end">130</text>
<text x="532" y="597">140</text>
<text x="559" y="438">150</text>
<text x="558" y="182">160</text>
<text x="657" y="52">170</text>
<text x="712" y="259" text-anchor="end">180</text>
<text x="680" y="512">190</text>
<text x="733" y="645">200</text>
<text x="692" y="783">210</text>
<text x="908" y="798">220</text>
<text x="807" y="952">230</text>
<text x="590" y="965">240</text>
<text x="753" y="1010">250</text>
<text x="978" y="1112">260</text>
<text x="732" y="1163">270</text>
<text x="857" y="1268">280</text>
</g>
<g id="termini">
<text x="45" y="1258" style="font-size:20px;fill:#111">NH<tspan dy="6">2</tspan></text>
<text x="927" y="1222" style="font-size:20px;fill:#111">COOH</text>
</g>
<g id="title">
<text class="ttl" x="168" y="1228">Cx32 <tspan x="396">(</tspan></text>
<text class="ttl" transform="translate(452,1228) scale(0.8,1)" x="0" y="0" font-style="italic">GJB1</text>
<text class="ttl" x="641" y="1228">)</text>
</g>
<g id="legend-mutation-type">
<rect x="782" y="87" width="181" height="110" fill="none" stroke="#333" stroke-width="1.8"/>
<line class="arr" x1="801" y1="106" x2="823" y2="106"/>
<text class="leg" x="838" y="113">missense</text>
<line class="mark" style="stroke-width:1.5" x1="792" y1="137" x2="836" y2="137"/>
<circle cx="814" cy="137" r="12" fill="#fff" stroke="#111" stroke-width="1.5"/>
<text class="leg" x="838" y="145">nonsense</text>
<circle cx="815" cy="169" r="12" fill="#fff" stroke="#111" stroke-width="1.5"/>
<path class="mark" style="stroke-width:1.6" d="M798,156 H817 C838,156 838,183 817,183 H798"/>
<text class="leg" x="838" y="177">deletion</text>
</g>
<g id="legend-phenotype">
<rect x="758" y="230" width="229" height="132" fill="none" stroke="#333" stroke-width="1.8"/>
<circle cx="775" cy="251" r="13" fill="#000"/>
<text class="leg2" x="795" y="259">attacks</text>
<circle cx="775" cy="290" r="13" fill="#6d6d6d"/>
<text class="leg2" x="795" y="299">static abnormality:</text>
<text class="leg2" x="795" y="324">BAERs, MRI, or</text>
<text class="leg2" x="795" y="349">myelopathy</text>
</g>
</svg>
